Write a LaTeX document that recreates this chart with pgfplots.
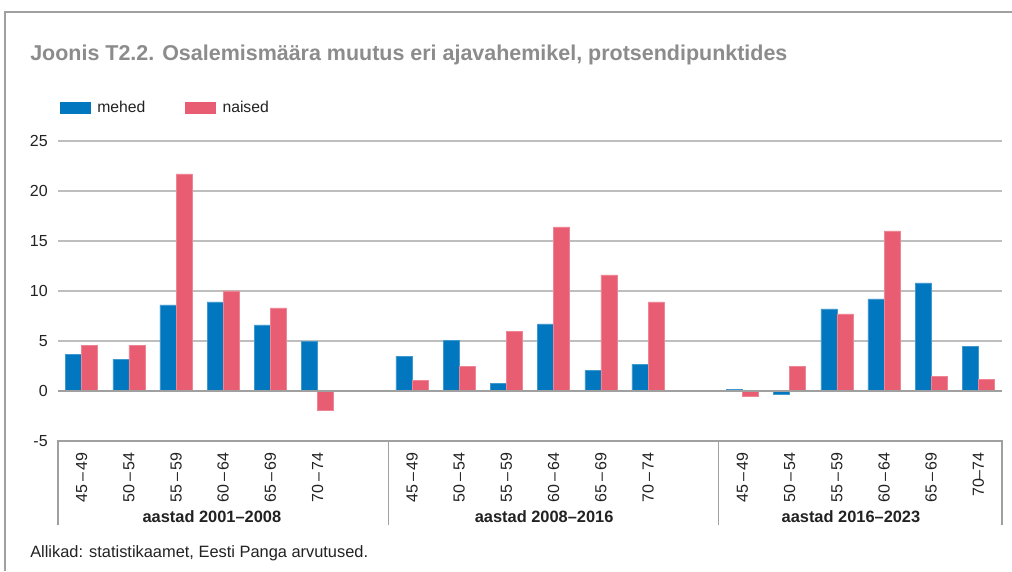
\documentclass[border=0pt]{standalone}
\usepackage{pgfplots}
\pgfplotsset{compat=1.18}
\usepackage{fontspec}
\setmainfont{Liberation Sans}
\definecolor{mblue}{HTML}{0077BE}
\definecolor{npink}{HTML}{E85D72}
\definecolor{titlegrey}{HTML}{8C8C8C}
\definecolor{gridgrey}{HTML}{BEBEBE}
\definecolor{framegrey}{HTML}{A0A0A0}
\definecolor{txt}{HTML}{222222}
\begin{document}
\begin{tikzpicture}
\fill[white] (0,0) rectangle (759pt,428.25pt);
\useasboundingbox (0,0) rectangle (759pt,428.25pt);
\draw[framegrey, line width=0.9pt] (759pt,419.25pt) -- (3.75pt,419.25pt) -- (3.75pt,0pt);
\node[anchor=west, text=titlegrey, font=\fontsize{16.1}{19}\selectfont\bfseries, inner sep=0pt] at (22.5pt,387pt) {Joonis T2.2. Osalemismäära muutus eri ajavahemikel, protsendipunktides};
\node[anchor=west, text=txt, font=\fontsize{12.3}{14}\selectfont, inner sep=0pt] at (22.5pt,13.5pt) {Allikad: statistikaamet, Eesti Panga arvutused.};
\begin{axis}[
  at={(43.5pt,97.5pt)}, anchor=south west,
  scale only axis, width=708pt, height=225pt,
  xmin=-0.5, xmax=19.5, ymin=-5, ymax=25,
  clip=false,
  axis line style={draw=none},
  ytick={-5,0,5,10,15,20,25},
  yticklabels={-5,0,5,10,15,20,25},
  ymajorgrids, grid style={gridgrey, line width=1.1pt},
  major tick length=0pt,
  xtick={0,1,2,3,4,5,7,8,9,10,11,12,14,15,16,17,18,19},
  xticklabels={45\,–\,49,50\,–\,54,55\,–\,59,60\,–\,64,65\,–\,69,70\,–\,74,
               45\,–\,49,50\,–\,54,55\,–\,59,60\,–\,64,65\,–\,69,70\,–\,74,
               45\,–\,49,50\,–\,54,55\,–\,59,60\,–\,64,65\,–\,69,70–74},
  xticklabel style={rotate=90, anchor=east, font=\fontsize{12}{14}\selectfont, text=txt},
  yticklabel style={font=\fontsize{12}{14}\selectfont, text=txt},
  xticklabel shift=5pt,
  yticklabel shift=4.2pt,
  legend columns=2,
  legend style={draw=none, fill=none, at={(axis description cs:0,1)}, anchor=west,
    xshift=-1.5pt, yshift=25pt, font=\fontsize{11.8}{14}\selectfont, text=txt,
    /tikz/every even column/.append style={column sep=28pt}},
]
\addplot[ybar, bar width=0.339, bar shift=-0.17, fill=mblue, draw=mblue!75!white, line width=0.3pt,
  legend image code/.code={\fill[mblue] (0pt,-4.1pt) rectangle (22.5pt,4.1pt);}]
  coordinates {(0,3.7) (1,3.2) (2,8.6) (3,8.9) (4,6.6) (5,5.0)
               (7,3.5) (8,5.1) (9,0.75) (10,6.7) (11,2.05) (12,2.7)
               (14,0.2) (15,-0.3) (16,8.2) (17,9.2) (18,10.8) (19,4.5)};
\addplot[ybar, bar width=0.339, bar shift=0.17, fill=npink, draw=npink!75!white, line width=0.3pt,
  legend image code/.code={\fill[npink] (0pt,-4.1pt) rectangle (22.5pt,4.1pt);}]
  coordinates {(0,4.6) (1,4.6) (2,21.7) (3,10.0) (4,8.3) (5,-1.9)
               (7,1.05) (8,2.5) (9,6.0) (10,16.4) (11,11.6) (12,8.9)
               (14,-0.5) (15,2.5) (16,7.7) (17,16.0) (18,1.5) (19,1.2)};
\legend{\hspace{3pt}mehed,\hspace{3pt}naised}
\draw[framegrey, line width=1.1pt] (axis cs:-0.5,0) -- (axis cs:19.5,0);
\draw[framegrey, line width=0.9pt] (axis cs:-0.5,-13.4) -- (axis cs:-0.5,-5) -- (axis cs:19.5,-5) -- (axis cs:19.5,-13.4);
\draw[framegrey, line width=0.9pt] (axis cs:6.5,-5) -- (axis cs:6.5,-13.4);
\draw[framegrey, line width=0.9pt] (axis cs:13.5,-5) -- (axis cs:13.5,-13.4);
\node[font=\fontsize{12.3}{14}\selectfont\bfseries, text=txt] at (axis cs:2.76,-12.6) {aastad 2001–2008};
\node[font=\fontsize{12.3}{14}\selectfont\bfseries, text=txt] at (axis cs:9.8,-12.6) {aastad 2008–2016};
\node[font=\fontsize{12.3}{14}\selectfont\bfseries, text=txt] at (axis cs:16.3,-12.6) {aastad 2016–2023};
\end{axis}
\end{tikzpicture}
\end{document}
